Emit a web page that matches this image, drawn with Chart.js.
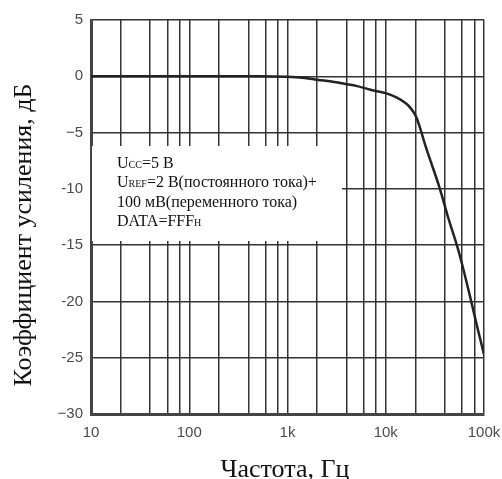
<!DOCTYPE html>
<html>
<head>
<meta charset="utf-8">
<script src="https://cdn.jsdelivr.net/npm/chart.js@4/dist/chart.umd.min.js"></script>
<style>
  html, body { margin: 0; padding: 0; background: #fff; }
  #wrap { width: 502px; height: 479px; position: relative; }
</style>
</head>
<body>
<div id="wrap"><canvas id="gainChart" width="502" height="479"></canvas></div>
<script>
// frequency response
const freqHz = [10, 100, 500, 1000, 1500, 2000, 3000, 4000, 5000, 7000, 10000, 13000, 16000, 18000, 20000, 22000, 25000, 28000, 35000, 43000, 55000, 70000, 85000, 100000];
const gainDb = [0, 0, 0, -0.05, -0.15, -0.3, -0.5, -0.7, -0.85, -1.2, -1.5, -1.9, -2.4, -2.85, -3.45, -4.4, -6.0, -7.3, -9.8, -12.5, -15.5, -19.1, -22.2, -24.7];

// grid / tick layout
const xGridValues = [10, 20, 40, 60, 80, 100, 200, 400, 600, 800, 1000, 2000, 4000, 6000, 8000, 10000, 20000, 40000, 60000, 80000, 100000];
const xDecades = [10, 100, 1000, 10000, 100000];
const xDecadeLabels = ['10', '100', '1k', '10k', '100k'];
const yTickValues = [5, 0, -5, -10, -15, -20, -25, -30];
const yTickLabels = ['5', '0', '\u22125', '-10', '-15', '-20', '-25', '\u221230'];

const xTitle = 'Частота, Гц';
const yTitle = 'Коэффициент усиления, дБ';
// note lines: [main, subscript, rest]
const noteLines = [
  ['U', 'CC', '=5 В'],
  ['U', 'REF', '=2 В(постоянного тока)+'],
  ['100 мВ(переменного тока)', '', ''],
  ['DATA=FFF', 'H', '']
];

const serif = '"Liberation Serif", "Times New Roman", serif';

const notePlugin = {
  id: 'noteBox',
  beforeDatasetsDraw(chart) {
    const ctx = chart.ctx;
    ctx.save();
    ctx.fillStyle = '#fff';
    ctx.fillRect(92, 146, 250, 95);
    ctx.fillStyle = '#111';
    ctx.textBaseline = 'alphabetic';
    ctx.textAlign = 'left';
    let y = 168;
    noteLines.forEach(parts => {
      let x = 117;
      ctx.font = '16px ' + serif;
      ctx.fillText(parts[0], x, y);
      x += ctx.measureText(parts[0]).width;
      if (parts[1]) {
        ctx.font = '10px ' + serif;
        ctx.fillText(parts[1], x, y);
        x += ctx.measureText(parts[1]).width;
      }
      if (parts[2]) {
        ctx.font = '16px ' + serif;
        ctx.fillText(parts[2], x, y);
      }
      y += 19.3;
    });
    ctx.restore();
  },
  afterDraw(chart) {
    const ctx = chart.ctx;
    ctx.save();
    ctx.fillStyle = '#111';
    ctx.font = '26px ' + serif;
    ctx.textAlign = 'center';
    ctx.textBaseline = 'alphabetic';
    ctx.fillText(xTitle, 285, 477);
    ctx.translate(31, 235);
    ctx.rotate(-Math.PI / 2);
    ctx.fillText(yTitle, 0, 0);
    ctx.restore();
  }
};

const ctx = document.getElementById('gainChart').getContext('2d');
new Chart(ctx, {
  type: 'line',
  data: {
    datasets: [{
      data: freqHz.map((f, i) => ({ x: f, y: gainDb[i] })),
      borderColor: '#222',
      borderWidth: 2.5,
      pointRadius: 0,
      tension: 0.4,
      fill: false
    }]
  },
  options: {
    responsive: false,
    animation: false,
    layout: { padding: { top: 20, right: 18, left: 0, bottom: 0 } },
    plugins: { legend: { display: false }, tooltip: { enabled: false } },
    scales: {
      x: {
        type: 'logarithmic',
        min: 10,
        max: 100000,
        afterBuildTicks(scale) {
          scale.ticks = xGridValues.map(v => ({ value: v }));
        },
        afterFit(scale) {
          scale.height = 65;
          scale.paddingLeft = 0;
          scale.paddingRight = 0;
        },
        ticks: {
          autoSkip: false,
          maxRotation: 0,
          padding: 10,
          color: '#4a4a4a',
          font: { family: '"Liberation Sans", Arial, sans-serif', size: 15 },
          callback(v) {
            const k = xDecades.indexOf(v);
            return k >= 0 ? xDecadeLabels[k] : '';
          }
        },
        grid: { color: '#333', lineWidth: 1.5, drawTicks: false },
        border: { color: '#444', width: 3 }
      },
      y: {
        type: 'linear',
        min: -30,
        max: 5,
        afterBuildTicks(scale) {
          scale.ticks = yTickValues.map(v => ({ value: v }));
        },
        afterFit(scale) {
          scale.width = 91;
          scale.paddingTop = 0;
          scale.paddingBottom = 0;
        },
        ticks: {
          padding: 8,
          color: '#4a4a4a',
          font: { family: '"Liberation Sans", Arial, sans-serif', size: 15 },
          callback(v) {
            const k = yTickValues.indexOf(v);
            return k >= 0 ? yTickLabels[k] : '';
          }
        },
        grid: { color: '#333', lineWidth: 1.5, drawTicks: false },
        border: { color: '#444', width: 3 }
      }
    }
  },
  plugins: [notePlugin]
});
</script>
</body>
</html>
